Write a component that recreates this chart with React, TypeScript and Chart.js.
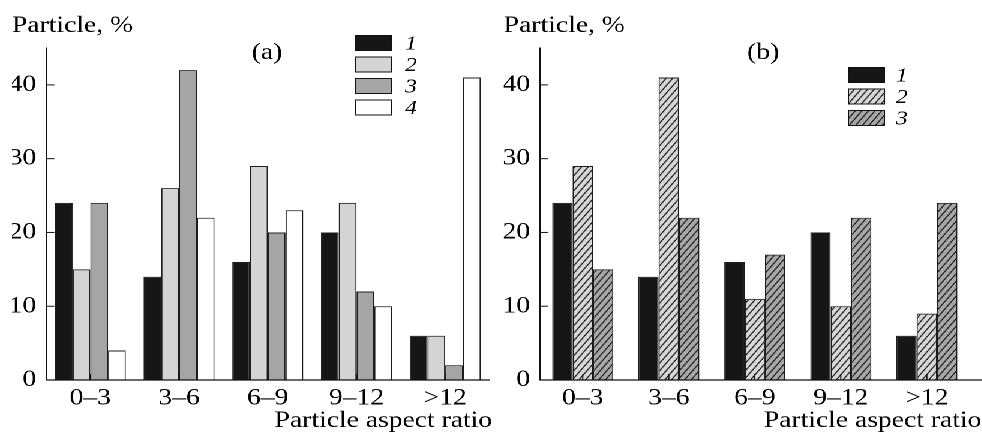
import React, { useEffect, useRef } from "react";
import { Chart, registerables } from "chart.js";

Chart.register(...registerables);

// ---------- data ----------
const categories = ["0–3", "3–6", "6–9", "9–12", ">12"];
const yTicks = [0, 10, 20, 30, 40];
const yMax = 45;

const aSeries1 = [24, 14, 16, 20, 6];
const aSeries2 = [15, 26, 29, 24, 6];
const aSeries3 = [24, 42, 20, 12, 2];
const aSeries4 = [4, 22, 23, 10, 41];
const aLabels = ["1", "2", "3", "4"];

const bSeries1 = [24, 14, 16, 20, 6];
const bSeries2 = [29, 41, 11, 10, 9];
const bSeries3 = [15, 22, 17, 22, 24];
const bLabels = ["1", "2", "3"];

const yTitle = "Particle, %";
const xTitle = "Particle aspect ratio";

// ---------- layout ----------
const SX = 1.2; // horizontal stretch of the whole figure
const TOTAL_W = 982 / SX;
const PANEL_W = TOTAL_W / 2;
const H = 437;
const SERIF = "'Liberation Serif', 'Times New Roman', serif";
const INK = "#000000";
const FS = 23;

function hatch(bg: string): CanvasPattern {
  const k = 4;
  const w = 5.5;
  const h = 7.5;
  const c = document.createElement("canvas");
  c.width = Math.round(w * k);
  c.height = Math.round(h * k);
  const ctx = c.getContext("2d")!;
  const W = c.width;
  const Hh = c.height;
  ctx.fillStyle = bg;
  ctx.fillRect(0, 0, W, Hh);
  ctx.strokeStyle = "#1a1a1a";
  ctx.lineWidth = 1.0 * k;
  for (const o of [-W, 0, W]) {
    ctx.beginPath();
    ctx.moveTo(o, Hh);
    ctx.lineTo(o + W, 0);
    ctx.stroke();
  }
  const p = ctx.createPattern(c, "repeat")!;
  p.setTransform(new DOMMatrix().scale(1 / k));
  return p;
}

const decor = {
  id: "decor",
  afterDatasetsDraw(chart: any, _args: any, opts: any) {
    const ctx: CanvasRenderingContext2D = chart.ctx;
    const a = chart.chartArea;
    const xs = chart.scales.x;
    const ys = chart.scales.y;
    ctx.save();
    ctx.strokeStyle = "#111111";
    ctx.lineWidth = 1.2;
    // x axis line (may run a little past the plot area, as in the original)
    ctx.beginPath();
    ctx.moveTo(a.left, a.bottom);
    ctx.lineTo(a.right + opts.axisExtra, a.bottom);
    ctx.stroke();
    ctx.lineWidth = 1;
    ys.ticks.forEach((t: any) => {
      const py = ys.getPixelForValue(t.value);
      ctx.beginPath();
      ctx.moveTo(a.left, py);
      ctx.lineTo(a.left + opts.yTickLen, py);
      ctx.stroke();
    });
    xs.ticks.forEach((_t: any, i: number) => {
      const px = xs.getPixelForTick(i);
      ctx.beginPath();
      ctx.moveTo(px, a.bottom);
      ctx.lineTo(px, a.bottom - opts.xTickLen);
      ctx.stroke();
    });
    ctx.fillStyle = INK;
    ctx.font = `${FS}px ${SERIF}`;
    ctx.textBaseline = "alphabetic";
    ctx.textAlign = "center";
    ctx.fillText(opts.panel, opts.panelX, opts.panelY);
    ctx.textAlign = "left";
    ctx.fillText(xTitle, opts.xTitleX, opts.xTitleY);
    chart.data.datasets.forEach((ds: any, i: number) => {
      const top = opts.legendY + i * opts.legendStep;
      ctx.fillStyle = ds.backgroundColor;
      ctx.fillRect(opts.legendX, top, opts.boxW, opts.boxH);
      ctx.strokeStyle = ds.borderColor;
      ctx.lineWidth = 1;
      ctx.strokeRect(opts.legendX + 0.5, top + 0.5, opts.boxW - 1, opts.boxH - 1);
      ctx.fillStyle = INK;
      ctx.font = `italic 20px ${SERIF}`;
      ctx.textAlign = "left";
      ctx.textBaseline = "middle";
      ctx.fillText(ds.label, opts.labelX, top + opts.boxH / 2 + 1);
    });
    ctx.restore();
  },
};

function makeConfig(p: any): any {
  return {
    type: "bar",
    data: { labels: categories, datasets: p.datasets },
    options: {
      animation: false,
      responsive: true,
      maintainAspectRatio: false,
      devicePixelRatio: 2,
      layout: { padding: { left: p.padLeft, right: p.padRight, top: 0, bottom: 0 } },
      datasets: {
        bar: {
          categoryPercentage: p.catPct,
          barPercentage: 1,
          borderWidth: 1,
          borderColor: "#1c1c1c",
        },
      },
      plugins: {
        legend: { display: false },
        tooltip: { enabled: false },
        title: {
          display: true,
          text: yTitle,
          align: "start",
          color: INK,
          font: { family: SERIF, size: FS, weight: "normal" },
          padding: { top: 12.4, bottom: 8.0 },
        },
        decor: p.decor,
      },
      scales: {
        x: {
          type: "category",
          grid: { display: false, drawTicks: false },
          border: { display: false },
          ticks: {
            color: INK,
            padding: 4.5,
            maxRotation: 0,
            autoSkip: false,
            font: { family: SERIF, size: FS },
          },
          afterFit: (s: any) => {
            s.height = 57;
          },
        },
        y: {
          min: 0,
          max: yMax,
          grid: { display: false, drawTicks: false },
          border: { display: true, color: "#111111", width: 1 },
          ticks: { color: INK, padding: 8, font: { family: SERIF, size: FS } },
          afterBuildTicks: (s: any) => {
            s.ticks = yTicks.map((v) => ({ value: v }));
          },
          afterFit: (s: any) => {
            s.width = p.yWidth;
          },
        },
      },
    },
    plugins: [decor],
  };
}

function Panel({ build }: { build: () => any }) {
  const ref = useRef<HTMLCanvasElement>(null);
  useEffect(() => {
    const chart = new Chart(ref.current!, build());
    return () => chart.destroy();
  }, []);
  return (
    <div style={{ position: "relative", width: PANEL_W, height: H, flex: "none" }}>
      <canvas ref={ref} />
    </div>
  );
}

const buildA = () =>
  makeConfig({
    padLeft: 10,
    padRight: 1.2,
    yWidth: 28.3,
    catPct: 0.8,
    datasets: [
      { label: aLabels[0], data: aSeries1, backgroundColor: "#161616" },
      { label: aLabels[1], data: aSeries2, backgroundColor: "#d3d4d3" },
      { label: aLabels[2], data: aSeries3, backgroundColor: "#a4a5a4" },
      { label: aLabels[3], data: aSeries4, backgroundColor: "#ffffff" },
    ],
    decor: {
      axisExtra: 0,
      yTickLen: 7,
      xTickLen: 6,
      panel: "(a)",
      panelX: 222.5,
      panelY: 59,
      xTitleX: 228.8,
      xTitleY: 427,
      legendX: 295.8,
      legendY: 35,
      legendStep: 21.5,
      boxW: 31,
      boxH: 16,
      labelX: 337.5,
    },
  });

const buildB = () =>
  makeConfig({
    padLeft: 10.8,
    padRight: 10,
    yWidth: 30,
    catPct: 0.71,
    datasets: [
      { label: bLabels[0], data: bSeries1, backgroundColor: "#161616" },
      { label: bLabels[1], data: bSeries2, backgroundColor: hatch("#d6d6d6") },
      { label: bLabels[2], data: bSeries3, backgroundColor: hatch("#a6a6a6") },
    ],
    decor: {
      axisExtra: 10,
      yTickLen: 7,
      xTickLen: 6,
      panel: "(b)",
      panelX: 227,
      panelY: 59,
      xTitleX: 227.5,
      xTitleY: 427,
      legendX: 297.5,
      legendY: 67,
      legendStep: 21.5,
      boxW: 31,
      boxH: 16,
      labelX: 337.5,
    },
  });

export default function App() {
  return (
    <div
      style={{
        position: "fixed",
        left: 0,
        top: 0,
        width: TOTAL_W,
        height: H,
        display: "flex",
        background: "#ffffff",
        transform: `scaleX(${SX})`,
        transformOrigin: "0 0",
        overflow: "hidden",
      }}
    >
      <Panel build={buildA} />
      <Panel build={buildB} />
    </div>
  );
}
